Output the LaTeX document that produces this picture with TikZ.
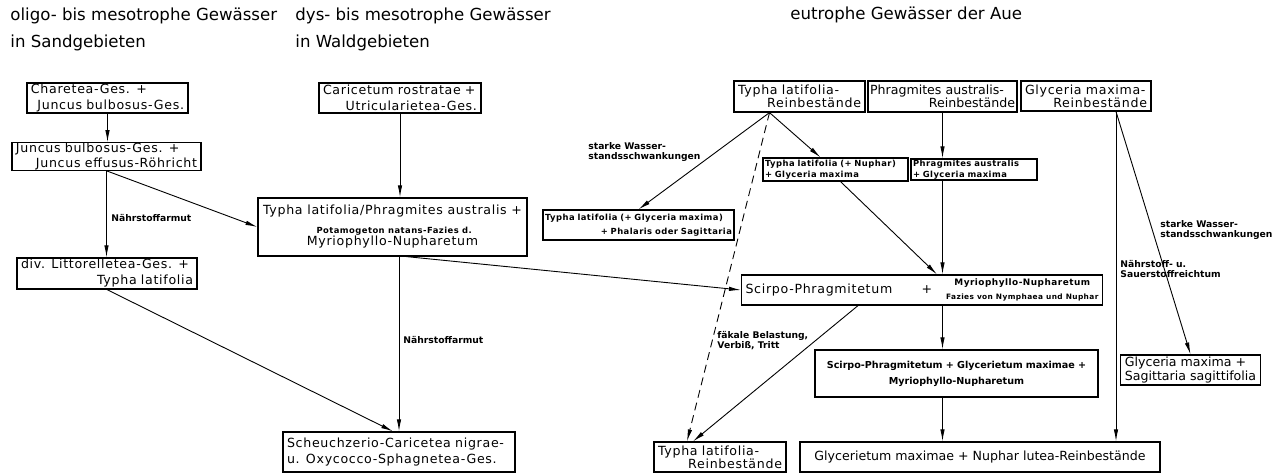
\documentclass[tikz,border=0pt]{standalone}
\usepackage{fontspec}
\setmainfont{DejaVu Sans}
\newfontfamily\plotFont{DejaVu Sans}[LetterSpace=5.5]
\usetikzlibrary{arrows.meta}
\newcommand{\toRight}{\mbox{}\hskip 0pt plus 1fill\relax}
\newcommand{\boxFont}[1]{\plotFont\fontsize{6.3}{#1}\selectfont}
\newcommand{\smallFont}[1]{\plotFont\fontsize{4.2}{#1}\selectfont\bfseries}

\begin{document}
\begin{tikzpicture}[x=0.5pt, y=-0.5pt,
            vegBox/.style={draw, line width=0.6pt, inner xsep=2pt, inner ysep=0.3pt, align=left,
                font=\boxFont{8}},
            vegSmall/.style={vegBox, inner xsep=1pt, font=\smallFont{5.3}},
            flow/.style={-{Latex[length=6pt,width=2.2pt]}, line width=0.45pt},
            flowLabel/.style={anchor=west, align=left, inner sep=0pt,
                font=\fontsize{4.6}{5}\selectfont\bfseries},
            heading/.style={anchor=west, align=left, inner sep=0pt,
                font=\fontsize{8.3}{13.5}\selectfont}]
            \useasboundingbox (0,0) rectangle (1284,473);

            \node[heading] (headSand) at (10,29) {oligo- bis mesotrophe Gewässer\\in Sandgebieten};
            \node[heading] (headWald) at (295,29) {dys- bis mesotrophe Gewässer\\in Waldgebieten};
            \node[heading] (headAue) at (790,15) {eutrophe Gewässer der Aue};

            \node[vegBox, text width=76.5pt, minimum height=15pt] (charetea) at (107.5,98)
                {Charetea-Ges. +\\\toRight Juncus bulbosus-Ges.};
            \node[vegBox, text width=90.5pt, minimum height=13.5pt, font=\boxFont{5.9}] (juncus) at (106.5,156.5)
                {Juncus bulbosus-Ges. +\\\toRight Juncus effusus-Röhricht};
            \node[vegBox, text width=86pt, minimum height=15.5pt] (littorella) at (107,273.5)
                {div. Littorelletea-Ges. +\\\toRight Typha latifolia\hspace*{7pt}};
            \node[vegBox, text width=77pt, minimum height=15pt] (caricetum) at (400,98)
                {Caricetum rostratae +\\\toRight Utricularietea-Ges.};
            \node[vegBox, align=center, minimum width=134.5pt, minimum height=29pt] (typhaPhrag) at (392.5,227)
                {Typha latifolia/Phragmites australis +\\[1.5pt]{\smallFont{5} Potamogeton natans-Fazies d.}\\[-2pt]Myriophyllo-Nupharetum};
            \node[vegBox, text width=112pt, minimum height=20pt] (scheuchzerio) at (399,452)
                {Scheuchzerio-Caricetea nigrae-\\u. Oxycocco-Sphagnetea-Ges.};

            \node[vegBox, text width=61.5pt, minimum height=15.5pt, font=\boxFont{6.5}] (typhaRein) at (799.5,96.5)
                {Typha latifolia-\\\toRight Reinbestände};
            \node[vegBox, inner xsep=1pt, text width=72.5pt, minimum height=15.5pt, font=\fontsize{6.3}{6.5}\selectfont] (phragRein) at (942.5,96.5)
                {Phragmites australis-\\\toRight Reinbestände};
            \node[vegBox, text width=61pt, minimum height=15pt, font=\boxFont{6.5}] (glycRein) at (1086,96)
                {Glyceria maxima-\\\toRight Reinbestände};
            \node[vegSmall, text width=93.5pt, minimum height=15pt, font=\smallFont{7}] (typhaGlyc) at (638.5,225)
                {Typha latifolia (+ Glyceria maxima)\\\toRight + Phalaris oder Sagittaria};
            \node[vegSmall, text width=70.5pt, minimum height=11.5pt] (typhaNuph) at (835.5,169.5)
                {Typha latifolia (+ Nuphar)\\+ Glyceria maxima};
            \node[vegSmall, text width=61pt, minimum height=10.5pt] (phragGlyc) at (974,169.5)
                {Phragmites australis\\+ Glyceria maxima};
            \node[vegBox, minimum width=180pt, minimum height=15pt] (scirpo) at (922,290)
                {\makebox[88pt][l]{Scirpo-Phragmitetum}+\hspace{7pt}{\renewcommand{\arraystretch}{0.85}\begin{tabular}{@{}c@{}}{\fontsize{4.45}{5}\selectfont\bfseries Myriophyllo-Nupharetum}\\{\fontsize{3.7}{4.5}\selectfont\bfseries Fazies von Nymphaea und Nuphar}\end{tabular}}};
            \node[vegBox, align=center, text width=137.5pt, minimum height=23.5pt, font=\fontsize{4.8}{8}\selectfont\bfseries] (scirMix) at (956.5,373.5)
                {Scirpo-Phragmitetum + Glycerietum maximae +\\Myriophyllo-Nupharetum};
            \node[vegBox, text width=62pt, minimum height=15pt, font=\boxFont{6.5}] (typhaReinB) at (720,457)
                {Typha latifolia-\\\toRight Reinbestände};
            \node[vegBox, align=center, minimum width=180pt, minimum height=15pt, font=\fontsize{6.3}{8}\selectfont] (glycNuph) at (980,457)
                {Glycerietum maximae + Nuphar lutea-Reinbestände};
            \node[vegBox, minimum width=67.5pt, minimum height=15pt, font=\fontsize{6.3}{7}\selectfont] (glycSag) at (1190.5,370)
                {Glyceria maxima +\\Sagittaria sagittifolia};

            \draw[flow] (charetea.south) -- (charetea.south |- juncus.north);
            \draw[flow] (juncus.south) -- (juncus.south |- littorella.north);
            \draw[flow] (juncus.south) -- (typhaPhrag.west);
            \draw[flow] (caricetum.south) -- (caricetum.south |- typhaPhrag.north);
            \draw[flow] (littorella.south) -- ([xshift=-3pt]scheuchzerio.north);
            \draw[flow] (typhaPhrag.south -| scheuchzerio.north) -- (scheuchzerio.north);
            \draw[flow] ([xshift=7pt]typhaPhrag.south) -- (scirpo.west);

            \coordinate (typhaFoot) at ([xshift=-15pt]typhaRein.south);
            \coordinate (glycFoot) at ([xshift=15pt]glycRein.south);
            \draw[flow] (typhaFoot) -- (typhaGlyc.north);
            \draw[flow] (typhaFoot) -- ([xshift=-7.5pt]typhaNuph.north);
            \draw[flow, dash pattern=on 4pt off 2.5pt] (typhaFoot) -- ([xshift=-16.5pt]typhaReinB.north);
            \draw[flow] (phragRein.south) -- (phragRein.south |- phragGlyc.north);
            \draw[flow] ([xshift=2.5pt]typhaNuph.south) -- ([xshift=7.5pt]scirpo.north);
            \draw[flow] (phragRein.south |- phragGlyc.south) -- (phragRein.south |- scirpo.north);
            \draw[flow] ([xshift=-32pt]scirpo.south) -- ([xshift=-13.5pt]typhaReinB.north);
            \draw[flow] (phragRein.south |- scirpo.south) -- (phragRein.south |- scirMix.north);
            \draw[flow] (phragRein.south |- scirMix.south) -- (phragRein.south |- glycNuph.north);
            \draw[flow] (glycFoot) -- (glycFoot |- glycNuph.north);
            \draw[flow] (glycFoot) -- (glycSag.north);

            \node[flowLabel] (lblArmutA) at (111,218) {Nährstoffarmut};
            \node[flowLabel] (lblArmutB) at (403,340) {Nährstoffarmut};
            \node[flowLabel] (lblWasserA) at (588,152) {starke Wasser-\\standsschwankungen};
            \node[flowLabel] (lblFaekal) at (717,341) {fäkale Belastung,\\Verbiß, Tritt};
            \node[flowLabel] (lblReich) at (1120,269) {Nährstoff- u.\\Sauerstoffreichtum};
            \node[flowLabel] (lblWasserB) at (1160,230) {starke Wasser-\\standsschwankungen};
        \end{tikzpicture}
\end{document}
